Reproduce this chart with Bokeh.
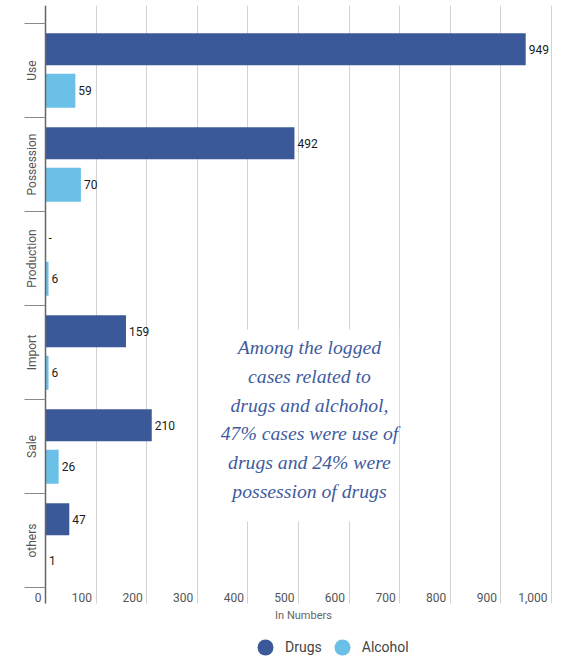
from bokeh.plotting import figure
from bokeh.models import (Range1d, FixedTicker, ColumnDataSource, LabelSet, Label,
                          BoxAnnotation, Legend, LegendItem, Grid)
from bokeh.transform import dodge
from bokeh.core.properties import value
from bokeh.embed import file_html
from bokeh.resources import INLINE

# ---- data ----
categories = ["Use", "Possession", "Production", "Import", "Sale", "others"]
drugs = [949, 492, 0, 159, 210, 47]
alcohol = [59, 70, 6, 6, 26, 1]
x_ticks = [0, 100, 200, 300, 400, 500, 600, 700, 800, 900, 1000]
x_tick_labels = ["0", "100", "200", "300", "400", "500", "600", "700", "800", "900", "1,000"]
x_title = "In Numbers"
series_names = ["Drugs", "Alcohol"]
note_lines = ["Among the logged", "cases related to", "drugs and alchohol,",
              "47% cases were use of", "drugs and 24% were", "possession of drugs"]

DRUGS_COLOR = "#3b5998"
ALC_COLOR = "#6bc0e8"

pos = list(range(len(categories)))
src = ColumnDataSource(dict(
    pos=pos,
    drugs=drugs,
    alcohol=alcohol,
    drugs_label=["-" if v == 0 else f"{v:,}" for v in drugs],
    alcohol_label=["-" if v == 0 else f"{v:,}" for v in alcohol],
))

# ---- layout constants (pixels) ----
W, H = 570, 657
FRAME_LEFT, AXIS_X, RIGHT, TOP = 24, 45, 10, 5
PX_PER_UNIT = 0.506
band_px = 94.0
n = len(categories)
y_top = -0.5 - 18 / band_px
y_axis_end = n - 0.5 + 16 / band_px
y_bottom = n - 0.5 + (H - TOP - 18 - n * band_px) / band_px
x_start = -(AXIS_X - FRAME_LEFT) / PX_PER_UNIT
x_end = (W - RIGHT - AXIS_X) / PX_PER_UNIT

p = figure(width=W, height=H,
           x_range=Range1d(x_start, x_end), y_range=Range1d(y_bottom, y_top),
           x_axis_location=None,
           output_backend="svg", toolbar_location=None,
           min_border_left=FRAME_LEFT, min_border_right=RIGHT, min_border_top=TOP,
           min_border_bottom=0)
p.outline_line_color = None
p.background_fill_color = "white"
for g in p.grid:
    g.visible = False

p.add_layout(Grid(dimension=0, ticker=FixedTicker(ticks=x_ticks),
                  grid_line_color="#d2d2d2", grid_line_width=1))

# bars
p.hbar(y=dodge("pos", -0.225), right="drugs", left=0, height=0.34, source=src,
       fill_color=DRUGS_COLOR, line_color=None)
p.hbar(y=dodge("pos", 0.215), right="alcohol", left=0, height=0.36, source=src,
       fill_color=ALC_COLOR, line_color=None)

# value labels
for col, lab, off in (("drugs", "drugs_label", -0.225), ("alcohol", "alcohol_label", 0.215)):
    p.text(x=col, y=dodge("pos", off), text=lab, source=src,
           x_offset=3, text_align="left", text_baseline="middle",
           text_font=value("Roboto"), text_font_size=value("12px"), text_color="#1a1a1a")

# y axis, drawn at x = 0
yax = p.yaxis[0]
yax.fixed_location = 0
yax.bounds = (y_top, y_axis_end)
yax.ticker = FixedTicker(ticks=pos, minor_ticks=[i - 0.5 for i in range(n + 1)])
yax.major_label_overrides = {i: c for i, c in zip(pos, categories)}
yax.major_label_orientation = "parallel"
yax.major_tick_line_color = None
yax.major_tick_out = 0
yax.major_tick_in = 0
yax.minor_tick_out = 22
yax.minor_tick_in = 0
yax.minor_tick_line_color = "#8a8a8a"
yax.axis_line_color = "#666666"
yax.axis_line_width = 1.5
yax.major_label_standoff = -15
yax.major_label_text_font = "Roboto"
yax.major_label_text_font_size = "12px"
yax.major_label_text_color = "#555555"

# white area below the axis end (gridlines stop there)
p.add_layout(BoxAnnotation(top=y_axis_end, fill_color="white", fill_alpha=1.0,
                           line_color=None, level="underlay"))

# x tick labels, placed left of each gridline
tick_src = ColumnDataSource(dict(x=x_ticks, lab=x_tick_labels,
                                 y=[n - 0.5 + 10 / band_px] * len(x_ticks)))
p.add_layout(LabelSet(x="x", y="y", text="lab", source=tick_src, x_offset=-4,
                      text_align="right", text_baseline="middle",
                      text_font=value("Roboto"), text_font_size=value("12px"),
                      text_color="#555555"))

# x axis title
p.add_layout(Label(x=(303 - AXIS_X) / PX_PER_UNIT, y=n - 0.5 + 28 / band_px, text=x_title,
                   text_align="center", text_baseline="middle",
                   text_font="Roboto", text_font_size="11px", text_color="#666666"))

# note box
p.add_layout(BoxAnnotation(left=338, right=699, top=2.755, bottom=4.798,
                           fill_color="white", fill_alpha=1.0, line_color=None))
p.add_layout(Label(x=521.7, y=3.707, text="\n".join(note_lines),
                   text_align="center", text_baseline="middle",
                   text_font="Liberation Serif", text_font_style="italic",
                   text_font_size="19.7px", text_color="#3f5c9e",
                   text_line_height=1.31))

# legend (circle markers; renderers carry no visible points)
nan = float("nan")
r_d = p.scatter(x=[nan], y=[nan], marker="circle", size=16, fill_color=DRUGS_COLOR,
                line_color=None)
r_a = p.scatter(x=[nan], y=[nan], marker="circle", size=16, fill_color=ALC_COLOR,
                line_color=None)
legend = Legend(items=[LegendItem(label=series_names[0], renderers=[r_d]),
                       LegendItem(label=series_names[1], renderers=[r_a])],
                orientation="horizontal", location=(265 - 20 - FRAME_LEFT, -10),
                glyph_width=40, glyph_height=40, label_standoff=0, spacing=0,
                padding=0, margin=0, border_line_color=None, background_fill_alpha=0,
                label_text_font="Roboto", label_text_font_size="14px",
                label_text_color="#444444")
p.add_layout(legend)

open("out.html", "w").write(file_html(p, INLINE))
